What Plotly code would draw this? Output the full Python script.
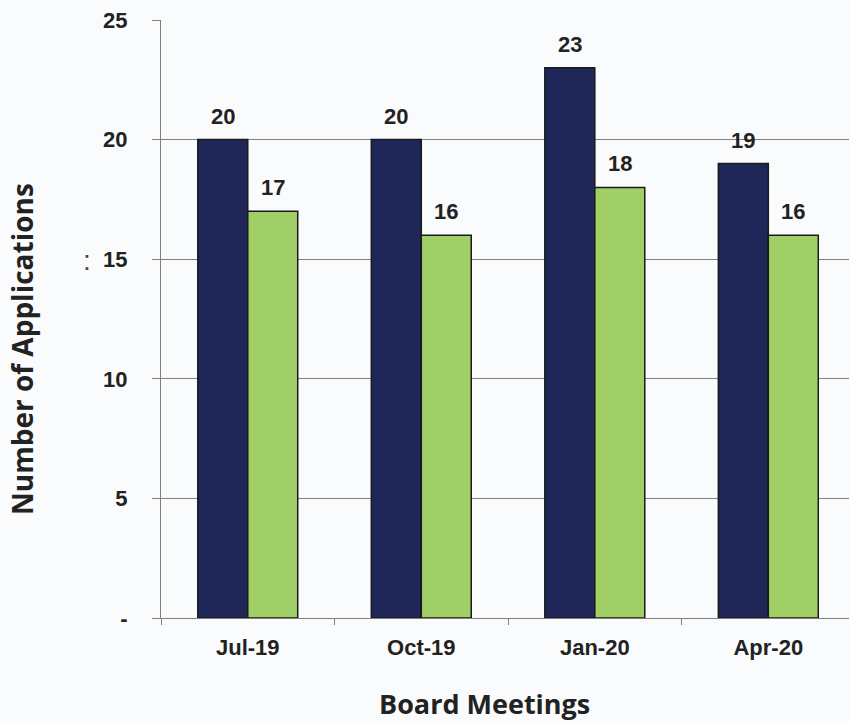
import plotly.graph_objects as go

categories = ["Jul-19", "Oct-19", "Jan-20", "Apr-20"]
series_a = [20, 20, 23, 19]
series_b = [17, 16, 18, 16]
y_tickvals = [0, 5, 10, 15, 20, 25]
y_ticktext = ["-", "5", "10", "15", "20", "25"]

navy = "#1E2757"
green = "#A0CF67"
outline = "#1a1a1a"
txt = "#222222"
af = "Arial, Liberation Sans, sans-serif"
tf = "Open Sans, sans-serif"

fig = go.Figure()
fig.add_trace(go.Bar(x=categories, y=series_a, marker=dict(color=navy, line=dict(color=outline, width=1.5)), name="A"))
fig.add_trace(go.Bar(x=categories, y=series_b, marker=dict(color=green, line=dict(color=outline, width=1.5)), name="B"))

annots = []
for c, v in zip(categories, series_a):
    annots.append(dict(x=c, y=v, xref="x", yref="y", text=f"<b>{v}</b>", showarrow=False,
                       xshift=-25, yshift=9, yanchor="bottom", font=dict(family=af, size=22, color=txt)))
for c, v in zip(categories, series_b):
    annots.append(dict(x=c, y=v, xref="x", yref="y", text=f"<b>{v}</b>", showarrow=False,
                       xshift=25, yshift=9, yanchor="bottom", font=dict(family=af, size=22, color=txt)))
annots.append(dict(x=0, y=0.5, xref="paper", yref="paper", text="<b>Number of Applications</b>", textangle=-90,
                   showarrow=False, xshift=-160, yshift=-30, font=dict(family=tf, size=28, color=txt)))
annots.append(dict(x=0.5, y=0, xref="paper", yref="paper", text="<b>Board Meetings</b>",
                   showarrow=False, xshift=-21, yshift=-106, font=dict(family=tf, size=27, color=txt)))
annots.append(dict(x=0, y=15, xref="paper", yref="y", text=":", showarrow=False, xshift=-80, yshift=-1,
                   font=dict(family=af, size=28, color="#444444")))

fig.update_layout(
    width=849, height=723,
    margin=dict(l=161, r=0, t=20, b=105),
    paper_bgcolor="#fafbfc", plot_bgcolor="rgba(0,0,0,0)",
    barmode="group", bargap=0.424, bargroupgap=0,
    showlegend=False,
    annotations=annots,
    xaxis=dict(type="category", range=[-0.5, 3.465], showline=True, linecolor="#808080", linewidth=1,
               ticks="outside", tickson="boundaries", ticklen=6, tickcolor="#808080",
               tickfont=dict(family=af, size=22, color=txt), showgrid=False,
               ticklabelstandoff=10,
               tickvals=categories, ticktext=[f"<b>{c}</b>" for c in categories]),
    yaxis=dict(range=[0, 25], tickvals=y_tickvals, ticktext=[f"<b>{t}</b>" for t in y_ticktext],
               showline=True, linecolor="#808080", linewidth=1, ticks="outside", ticklen=8, tickcolor="#808080",
               showgrid=True, gridcolor="#808080", gridwidth=1, zeroline=False,
               tickfont=dict(family=af, size=22, color=txt), ticklabelstandoff=20),
)
fig.write_html("out.html", post_script="document.body.style.margin='0';",
               config={"displayModeBar": False})
